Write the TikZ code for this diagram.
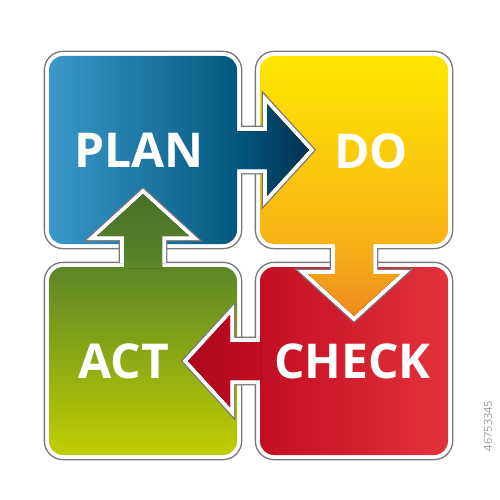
\documentclass[tikz,border=0pt]{standalone}
\usepackage{fontspec}
\setmainfont{Open Sans}
\definecolor{framegray}{RGB}{120,120,120}
\definecolor{planL}{RGB}{58,152,202}
\definecolor{planR}{RGB}{4,88,126}
\definecolor{a1R}{RGB}{2,50,80}
\definecolor{doT}{RGB}{255,230,0}
\definecolor{doB}{RGB}{247,178,22}
\definecolor{a2B}{RGB}{239,138,30}
\definecolor{chkL}{RGB}{194,14,34}
\definecolor{chkR}{RGB}{228,50,60}
\definecolor{a3L}{RGB}{172,8,28}
\definecolor{actT}{RGB}{92,134,40}
\definecolor{actB}{RGB}{192,206,0}
\definecolor{a4T}{RGB}{70,112,40}
\tikzset{
  boxframe/.style={draw=framegray, line width=1.3pt, fill=white, rounded corners=18.6pt,
    minimum width=197.3pt, minimum height=197.3pt, inner sep=0pt},
  colorbox/.style={rounded corners=14pt, minimum width=188pt, minimum height=188pt, inner sep=0pt},
  arrowgray/.style={draw=framegray, line width=10.6pt, line join=miter},
  arrowwhite/.style={draw=white, line width=8pt, line join=miter},
  lbl/.style={text=white, font=\bfseries\fontsize{48}{48}\selectfont, inner sep=0pt},
}
\begin{document}
\begin{tikzpicture}[x=1pt,y=-1pt]
\useasboundingbox (0,0) rectangle (500,500);
% frames
\node[boxframe] (planf) at (143,150) {};
\node[boxframe] (dof) at (354,150) {};
\node[boxframe] (actf) at (143,361) {};
\node[boxframe] (chkf) at (354,361) {};
% colored boxes
\node[colorbox, left color=planL, right color=planR] (plan) at (143,150) {};
\node[colorbox, top color=doT, bottom color=doB] (do) at (354,150) {};
\node[colorbox, top color=actT, bottom color=actB] (act) at (143,361) {};
\node[colorbox, left color=chkL, right color=chkR] (check) at (354,361) {};
% arrow PLAN -> DO
\begin{scope}[even odd rule]
  \clip (0,0) rectangle (500,500) [rounded corners=18pt] (45,52) rectangle (241,248);
  \draw[arrowgray] (236,131) -- (267,131) -- (267,104) -- (309,150) -- (267,196) -- (267,169) -- (236,169) -- cycle;
  \draw[arrowwhite] (236,131) -- (267,131) -- (267,104) -- (309,150) -- (267,196) -- (267,169) -- (236,169) -- cycle;
\end{scope}
\fill[left color=planR, right color=a1R] (236,131) -- (267,131) -- (267,104) -- (309,150) coordinate (tip1) -- (267,196) -- (267,169) -- (236,169) -- cycle;
% arrow DO -> CHECK
\begin{scope}[even odd rule]
  \clip (0,0) rectangle (500,500) [rounded corners=18pt] (256,52) rectangle (452,248);
  \draw[arrowgray] (335,243) -- (335,274) -- (308,274) -- (354,316) -- (400,274) -- (373,274) -- (373,243) -- cycle;
  \draw[arrowwhite] (335,243) -- (335,274) -- (308,274) -- (354,316) -- (400,274) -- (373,274) -- (373,243) -- cycle;
\end{scope}
\fill[top color=doB, bottom color=a2B] (335,243) -- (335,274) -- (308,274) -- (354,316) coordinate (tip2) -- (400,274) -- (373,274) -- (373,243) -- cycle;
% arrow CHECK -> ACT
\begin{scope}[even odd rule]
  \clip (0,0) rectangle (500,500) [rounded corners=18pt] (256,263) rectangle (452,459);
  \draw[arrowgray] (261,342) -- (230,342) -- (230,315) -- (188,361) -- (230,407) -- (230,380) -- (261,380) -- cycle;
  \draw[arrowwhite] (261,342) -- (230,342) -- (230,315) -- (188,361) -- (230,407) -- (230,380) -- (261,380) -- cycle;
\end{scope}
\fill[left color=a3L, right color=chkL] (261,342) -- (230,342) -- (230,315) -- (188,361) coordinate (tip3) -- (230,407) -- (230,380) -- (261,380) -- cycle;
% arrow ACT -> PLAN
\begin{scope}[even odd rule]
  \clip (0,0) rectangle (500,500) [rounded corners=18pt] (45,263) rectangle (241,459);
  \draw[arrowgray] (124,268) -- (124,236) -- (97,236) -- (143,194) -- (189,236) -- (162,236) -- (162,268) -- cycle;
  \draw[arrowwhite] (124,268) -- (124,236) -- (97,236) -- (143,194) -- (189,236) -- (162,236) -- (162,268) -- cycle;
\end{scope}
\fill[top color=a4T, bottom color=actT] (124,268) -- (124,236) -- (97,236) -- (143,194) coordinate (tip4) -- (189,236) -- (162,236) -- (162,268) -- cycle;
% labels
\node[lbl] (tplan) at (139,150) {PLAN};
\node[lbl] (tdo) at (371,151) {DO};
\node[lbl] (tcheck) at (352.5,361) {CHECK};
\node[lbl] (tact) at (124,361) {ACT};
\node[rotate=90, text=gray!80, font=\fontsize{11}{11}\selectfont, inner sep=0pt] (id) at (488,426) {46753345};
\end{tikzpicture}
\end{document}
